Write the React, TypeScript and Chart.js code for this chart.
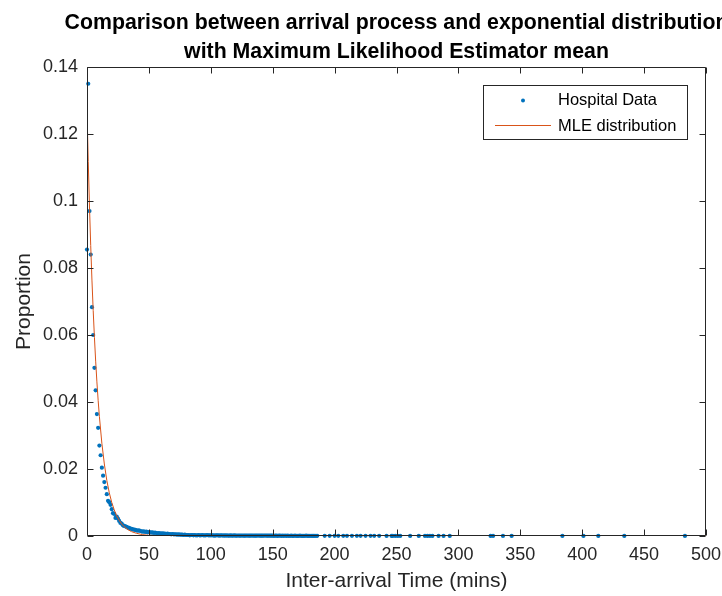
import { useEffect, useRef } from "react";
import { Chart, registerables } from "chart.js";

Chart.register(...registerables);

const chartTitleLines = [
  "Comparison between arrival process and exponential distribution",
  "with Maximum Likelihood Estimator mean",
];
const xAxisLabel = "Inter-arrival Time (mins)";
const yAxisLabel = "Proportion";
const hospitalLabel = "Hospital Data";
const mleLabel = "MLE distribution";

const xTickValues = [0, 50, 100, 150, 200, 250, 300, 350, 400, 450, 500];
const yTickValues = [0, 0.02, 0.04, 0.06, 0.08, 0.1, 0.12, 0.14];

// Share of arrivals in each 1-minute inter-arrival bin (array index = minute)
const proportionByMinute = [
  0.0855, 0.135, 0.097, 0.084, 0.0683, 0.06, 0.0502, 0.0435, 0.0364, 0.0323,
  0.027, 0.0241, 0.0204, 0.018, 0.0161, 0.0144, 0.0125, 0.0105, 0.0101, 0.0093,
  0.008, 0.0068, 0.0066, 0.0054, 0.0058, 0.0052, 0.0045, 0.0039, 0.0037, 0.0032,
  0.003, 0.0029, 0.0027, 0.0025, 0.0024, 0.0022, 0.0021, 0.002, 0.0019, 0.0018,
  0.0017, 0.0016, 0.0017, 0.0015, 0.0014, 0.0013, 0.0014, 0.0012, 0.0013, 0.0011,
  0.0012, 0.0011, 0.001, 0.0011, 0.0009, 0.001, 0.0009, 0.0008, 0.0009, 0.0008,
  0.0007, 0.0008, 0.0007, 0.0007, 0.0006, 0.0007, 0.0006, 0.0006, 0.0005, 0.0006,
  0.0005, 0.0005, 0.0005, 0.0004, 0.0005, 0.0004, 0.0004, 0.0004, 0.0003, 0.0004,
  0.0003, 0.0003, 0.0003, 0.0002, 0.0003, 0.0003, 0.0002, 0.0003, 0.0002, 0.0002,
  0.0003, 0.0002, 0.0002, 0.0003, 0.0002, 0.0002, 0.0002, 0.0003, 0.0002, 0.0002,
  0.0002, 0.0002, 0.0002, 0.0001, 0.0002, 0.0002, 0.0002, 0.0001, 0.0002, 0.0002,
  0.0001, 0.0002, 0.0001, 0.0002, 0.0001, 0.0001, 0.0002, 0.0001, 0.0001, 0.0002,
  0.0001, 0.0001, 0.00015, 0.0001, 0.0001, 0.00015, 0.0001, 0.0001, 0.0001, 0.00015,
  0.0001, 0.0001, 0.0001, 0.00015, 0.0001, 0.0001, 0.0001, 0.0001, 0.00015, 0.0001,
  0.0001, 0.0001, 0.0001, 0.0001, 0.00015, 0.0001, 0.0001, 0.0001, 0.0001, 0.0001,
  0.0001, 0.00005, 0.0001, 0.0001, 0.00005, 0.0001, 0.0001, 0.00005, 0.0001, 0.00005,
  0.0001, 0.00005, 0.0001, 0.00005, 0.00005, 0.0001, 0.00005, 0.00005, 0.0001, 0.00005,
  0.00005, 0.00005, 0.0001, 0.00005, 0.00005, 0.00005, 0.00005, 0.0001, 0.00005, 0.00005,
  0.00005, 0.00005, 0.00005, 0.00005, 0.00005, 0.00005, 0.00005,
];

// Sparse long gaps after the dense part
const tailMinutes = [
  192, 196, 200, 203, 207, 210, 214, 218, 221, 225, 229, 232, 236, 242, 246, 247,
  249, 251, 253, 261, 268, 273, 275, 277, 279, 284, 288, 293, 326, 328, 336, 343,
  384, 401, 413, 434, 483,
];
const tailProportion = [
  0.00005, 0.00005, 0.00005, 0.00005, 0.00005, 0.00005, 0.00005, 0.00005, 0.00005,
  0.00005, 0.00005, 0.00005, 0.00005, 0.00003, 0.00003, 0.00003, 0.00003, 0.00003,
  0.00003, 0.00003, 0.00003, 0.00003, 0.00003, 0.00003, 0.00003, 0.00003, 0.00003,
  0.00003, 0.00003, 0.00003, 0.00003, 0.00003, 0.00003, 0.00003, 0.00003, 0.00003,
  0.00003,
];

// Exponential density with the maximum-likelihood mean
const mleMinutes = [
  0, 1, 2, 3, 4, 5, 6, 7, 8, 9, 10, 12, 14, 16, 18, 20, 22, 24, 26, 28, 30, 33, 36,
  40, 45, 50, 60, 75, 500,
];
const mleProportion = [
  0.127, 0.1118, 0.0985, 0.0867, 0.0764, 0.0673, 0.0593, 0.0522, 0.046, 0.0405,
  0.0357, 0.0277, 0.0215, 0.0166, 0.0129, 0.01, 0.0078, 0.006, 0.0047, 0.0036,
  0.0028, 0.0019, 0.0013, 0.0008, 0.0004, 0.0002, 0.0001, 0, 0,
];

const FONT = '"Liberation Sans", Arial, Helvetica, sans-serif';
const AXIS_COLOR = "#262626";
const BLUE = "#0072BD";
const ORANGE = "#D95319";

const matlabFrame = {
  id: "matlabFrame",
  afterDraw(chart: any) {
    const { ctx, chartArea: a, scales } = chart;
    const xs = scales.x;
    const ys = scales.y;
    ctx.save();

    // axes box with inward ticks on every side
    ctx.strokeStyle = AXIS_COLOR;
    ctx.lineWidth = 1;
    const L = Math.round(a.left) + 0.5;
    const R = Math.round(a.right) - 0.5;
    const T = Math.round(a.top) + 0.5;
    const B = Math.round(a.bottom) - 0.5;
    ctx.beginPath();
    ctx.rect(L, T, R - L, B - T);
    const tl = 6;
    xTickValues.forEach((v) => {
      const px = Math.round(xs.getPixelForValue(v)) + 0.5;
      ctx.moveTo(px, B);
      ctx.lineTo(px, B - tl);
      ctx.moveTo(px, T);
      ctx.lineTo(px, T + tl);
    });
    yTickValues.forEach((v) => {
      const py = Math.round(ys.getPixelForValue(v)) + 0.5;
      ctx.moveTo(L, py);
      ctx.lineTo(L + tl, py);
      ctx.moveTo(R, py);
      ctx.lineTo(R - tl, py);
    });
    ctx.stroke();

    const cx = (a.left + a.right) / 2;
    const cy = (a.top + a.bottom) / 2;

    // title
    ctx.fillStyle = "#000";
    ctx.font = `bold 21.3px ${FONT}`;
    ctx.textAlign = "center";
    ctx.textBaseline = "alphabetic";
    ctx.fillText(chartTitleLines[0], cx, 29);
    ctx.fillText(chartTitleLines[1], cx, 58);

    // axis labels
    ctx.fillStyle = AXIS_COLOR;
    ctx.font = `21px ${FONT}`;
    ctx.fillText(xAxisLabel, cx, 587);
    ctx.save();
    ctx.translate(29.5, cy);
    ctx.rotate(-Math.PI / 2);
    ctx.fillText(yAxisLabel, 0, 0);
    ctx.restore();

    // legend
    const lx = 483.5;
    const ly = 85.5;
    const lw = 204;
    const lh = 54;
    ctx.fillStyle = "#fff";
    ctx.fillRect(lx, ly, lw, lh);
    ctx.strokeStyle = AXIS_COLOR;
    ctx.lineWidth = 1;
    ctx.strokeRect(lx, ly, lw, lh);
    ctx.fillStyle = BLUE;
    ctx.beginPath();
    ctx.arc(523, 100.5, 2, 0, Math.PI * 2);
    ctx.fill();
    ctx.strokeStyle = ORANGE;
    ctx.lineWidth = 1;
    ctx.beginPath();
    ctx.moveTo(495, 125.5);
    ctx.lineTo(551, 125.5);
    ctx.stroke();
    ctx.fillStyle = "#000";
    ctx.font = `16.5px ${FONT}`;
    ctx.textAlign = "left";
    ctx.textBaseline = "middle";
    ctx.fillText(hospitalLabel, 558, 100.5);
    ctx.fillText(mleLabel, 558, 126);

    ctx.restore();
  },
};

export default function App() {
  const canvasRef = useRef<HTMLCanvasElement | null>(null);

  useEffect(() => {
    const canvas = canvasRef.current;
    if (!canvas) return;

    const hospitalPoints = proportionByMinute
      .map((p, minute) => ({ x: minute, y: p }))
      .concat(tailMinutes.map((m, i) => ({ x: m, y: tailProportion[i] })));
    const mlePoints = mleMinutes.map((m, i) => ({ x: m, y: mleProportion[i] }));

    const chart = new Chart(canvas, {
      type: "scatter",
      data: {
        datasets: [
          {
            label: hospitalLabel,
            data: hospitalPoints,
            backgroundColor: BLUE,
            borderWidth: 0,
            pointRadius: 2.1,
            pointHoverRadius: 2.1,
            showLine: false,
            clip: false as any,
            order: 2,
          },
          {
            label: mleLabel,
            data: mlePoints,
            borderColor: ORANGE,
            borderWidth: 1,
            pointRadius: 0,
            showLine: true,
            tension: 0,
            order: 1,
          },
        ],
      },
      options: {
        responsive: false,
        animation: false,
        devicePixelRatio: 1,
        events: [],
        layout: { padding: { top: 67, right: 16, left: 0, bottom: 0 } },
        plugins: {
          legend: { display: false },
          title: { display: false },
          tooltip: { enabled: false },
        },
        scales: {
          x: {
            type: "linear",
            min: 0,
            max: 500,
            grid: { display: false, drawTicks: false },
            border: { display: false },
            afterBuildTicks: (s: any) => {
              s.ticks = xTickValues.map((v) => ({ value: v }));
            },
            afterFit: (s: any) => {
              s.height = 60;
              s.paddingLeft = 0;
              s.paddingRight = 0;
            },
            ticks: {
              color: AXIS_COLOR,
              font: { family: FONT, size: 18 },
              padding: 8,
              maxRotation: 0,
              autoSkip: false,
              callback: (v: any) => String(v),
            },
          },
          y: {
            type: "linear",
            min: 0,
            max: 0.14,
            grid: { display: false, drawTicks: false },
            border: { display: false },
            afterBuildTicks: (s: any) => {
              s.ticks = yTickValues.map((v) => ({ value: v }));
            },
            afterFit: (s: any) => {
              s.width = 87;
              s.paddingTop = 0;
              s.paddingBottom = 0;
            },
            ticks: {
              color: AXIS_COLOR,
              font: { family: FONT, size: 18 },
              padding: 9,
              autoSkip: false,
              callback: (v: any) => String(Number(Number(v).toFixed(2))),
            },
          },
        },
      },
      plugins: [matlabFrame],
    });

    return () => chart.destroy();
  }, []);

  return (
    <div style={{ position: "fixed", left: 0, top: 0, width: 722, height: 596, background: "#fff" }}>
      <canvas ref={canvasRef} width={722} height={596} />
    </div>
  );
}
